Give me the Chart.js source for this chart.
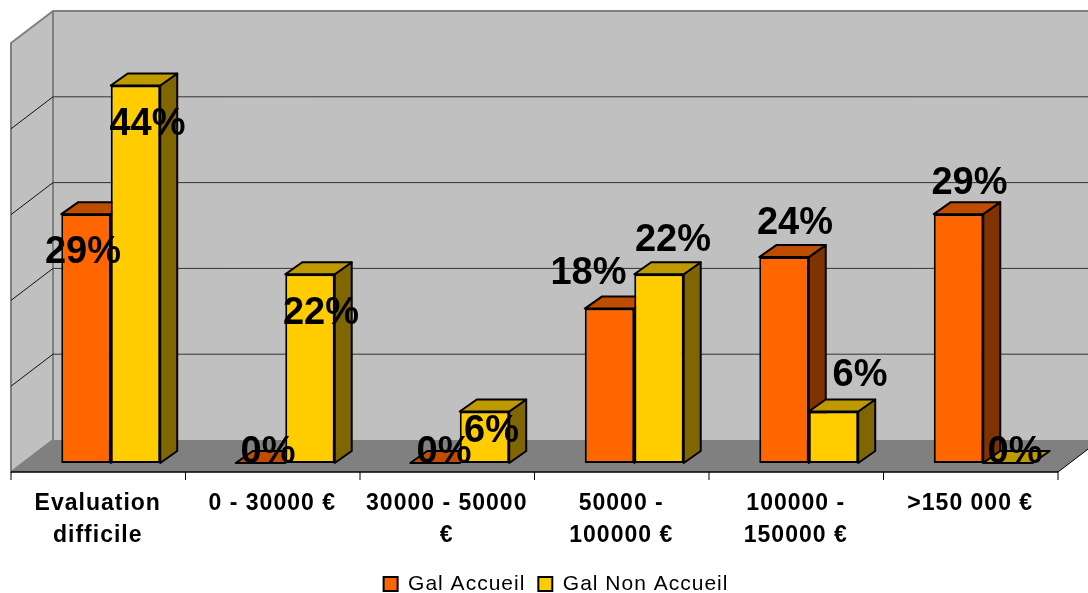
<!DOCTYPE html>
<html>
<head>
<meta charset="utf-8">
<title>Gal Accueil / Gal Non Accueil</title>
<script src="https://cdn.jsdelivr.net/npm/chart.js@4"></script>
<style>
  html, body { margin: 0; padding: 0; background: #fff; }
  canvas { display: block; }
</style>
</head>
<body>
<canvas id="graphique" width="1088" height="593"></canvas>
<script>
// --- data ---
const categories = [['Evaluation', 'difficile'], '0 - 30000 €', ['30000 - 50000', '€'], ['50000 -', '100000 €'], ['100000 -', '150000 €'], '>150 000 €'];
const galAccueil = [29, 0, 0, 18, 24, 29];
const galNonAccueil = [44, 22, 6, 22, 6, 0];
const yTicks = [0, 10, 20, 30, 40, 50];

// where each value label sits, relative to the top centre of its bar
const offsetsAccueil = [[-3, 38], [7.5, -10], [9, -10], [-21, -35], [11, -34], [11, -31]];
const offsetsNonAccueil = [[12, 39], [11, 39], [7, 20], [14, -34], [26.5, -36], [7, -10]];

const couleurs = [
    { front: '#FF6600', top: '#BF4D00', side: '#803300' },
    { front: '#FFCC00', top: '#BF9900', side: '#806600' }
];

// 3D look: bars have this depth, the walls go further out on both sides
const barDepth = { x: 17, y: -12 };
const wallFront = { x: -12.5, y: 9 };
const wallBack = { x: 29.5, y: -23 };

function poly(ctx, pts, fill, stroke, lw) {
    ctx.beginPath();
    pts.forEach((p, i) => i ? ctx.lineTo(p[0], p[1]) : ctx.moveTo(p[0], p[1]));
    ctx.closePath();
    if (fill) { ctx.fillStyle = fill; ctx.fill(); }
    if (stroke) { ctx.strokeStyle = stroke; ctx.lineWidth = lw; ctx.lineJoin = 'round'; ctx.stroke(); }
}

function line(ctx, x1, y1, x2, y2, color, lw) {
    ctx.beginPath();
    ctx.moveTo(x1, y1);
    ctx.lineTo(x2, y2);
    ctx.strokeStyle = color;
    ctx.lineWidth = lw;
    ctx.stroke();
}

const plugin3d = {
    id: 'plugin3d',
    beforeLayout(chart) { chart.ctx.letterSpacing = '1px'; },
    afterLayout(chart) {
        // legend sits a little right of the centre in the original
        chart.legend.left += 9;
        chart.legend.right += 9;
    },
    beforeDraw(chart) { chart.ctx.letterSpacing = '1px'; },
    // walls, floor, gridlines, tick marks, then the bars left to right
    beforeDatasetsDraw(chart) {
        const ctx = chart.ctx;
        const a = chart.chartArea;
        const yS = chart.scales.y;
        const xS = chart.scales.x;
        const base = yS.getPixelForValue(0);
        const top = yS.getPixelForValue(50);
        const fx = a.left + wallFront.x, fxr = a.right + wallFront.x, fy = base + wallFront.y;
        const bx = a.left + wallBack.x, bxr = a.right + wallBack.x, by = base + wallBack.y;
        const dy = wallFront.y - wallBack.y;

        ctx.save();
        poly(ctx, [[bx, by - (base - top)], [bxr, by - (base - top)], [bxr, by], [bx, by]], '#C0C0C0');
        poly(ctx, [[fx, fy - (base - top)], [bx, by - (base - top)], [bx, by], [fx, fy]], '#C0C0C0', '#808080', 2);
        poly(ctx, [[fx, fy], [bx, by], [bxr, by], [fxr, fy]], '#808080');
        line(ctx, bx, by - (base - top), bxr, by - (base - top), '#808080', 2);
        yTicks.forEach(v => {
            if (v === 0 || v === 50) return;
            const y = yS.getPixelForValue(v);
            line(ctx, bx, y + wallBack.y, bxr, y + wallBack.y, '#333333', 1);
            line(ctx, bx, y + wallBack.y, fx, y + wallBack.y + dy, '#111111', 1);
        });
        line(ctx, fx, fy, fxr, fy, '#000000', 1.5);
        line(ctx, fxr, fy, bxr, by, '#000000', 1);
        const pas = (a.right - a.left) / categories.length;
        for (let i = 0; i <= categories.length; i++) {
            const x = xS.left + i * pas + wallFront.x;
            line(ctx, x, fy, x, fy + 8, '#000000', 1);
        }

        // chart.js paints the first dataset last, the 3D needs it first
        const d = barDepth;
        [0, 1].forEach(n => {
            const meta = chart.getDatasetMeta(n);
            const c = couleurs[n];
            meta.data.forEach(bar => {
                const l = bar.x - bar.width / 2, r = bar.x + bar.width / 2;
                if (bar.base - bar.y > 0.5) {
                    poly(ctx, [[r, bar.y], [r + d.x, bar.y + d.y], [r + d.x, bar.base + d.y], [r, bar.base]], c.side, '#000000', 2);
                }
                poly(ctx, [[l, bar.y], [l + d.x, bar.y + d.y], [r + d.x, bar.y + d.y], [r, bar.y]], c.top, '#000000', 2);
            });
            meta.controller.draw();
        });
        ctx.restore();
    },
    beforeDatasetDraw() { return false; },
    afterDatasetsDraw(chart) {
        const ctx = chart.ctx;
        const series = [[galAccueil, offsetsAccueil], [galNonAccueil, offsetsNonAccueil]];
        ctx.save();
        ctx.letterSpacing = '0px';
        ctx.font = 'bold 38px "Liberation Sans"';
        ctx.fillStyle = '#000';
        ctx.textAlign = 'center';
        ctx.textBaseline = 'middle';
        series.forEach((s, n) => {
            chart.getDatasetMeta(n).data.forEach((bar, i) => {
                ctx.fillText(s[0][i] + '%', bar.x + s[1][i][0], bar.y + s[1][i][1]);
            });
        });
        ctx.restore();
    }
};

new Chart(document.getElementById('graphique'), {
    type: 'bar',
    data: {
        labels: categories,
        datasets: [
            { label: 'Gal Accueil', data: galAccueil, backgroundColor: couleurs[0].front },
            { label: 'Gal Non Accueil', data: galNonAccueil, backgroundColor: couleurs[1].front }
        ]
    },
    options: {
        responsive: false,
        animation: false,
        layout: { padding: { left: 23.5, right: 17.5, top: 34, bottom: -11.5 } },
        datasets: {
            bar: {
                borderColor: '#000000',
                borderWidth: 2,
                borderSkipped: false,
                categoryPercentage: 0.567,
                barPercentage: 1
            }
        },
        scales: {
            x: {
                afterFit(scale) { scale.height = 97.5; },
                grid: { display: false, drawTicks: false },
                border: { display: false },
                ticks: {
                    color: '#000',
                    font: { family: '"Liberation Sans"', size: 23, weight: 'bold', lineHeight: 1.39 },
                    maxRotation: 0,
                    autoSkip: false,
                    labelOffset: -13,
                    padding: 25
                }
            },
            y: {
                display: false,
                min: 0,
                max: 50,
                ticks: { stepSize: 10 }
            }
        },
        plugins: {
            tooltip: { enabled: false },
            legend: {
                position: 'bottom',
                labels: {
                    color: '#000',
                    font: { family: '"Liberation Sans"', size: 21 },
                    boxWidth: 14,
                    boxHeight: 14,
                    padding: 13
                }
            }
        }
    },
    plugins: [plugin3d]
});
</script>
</body>
</html>
